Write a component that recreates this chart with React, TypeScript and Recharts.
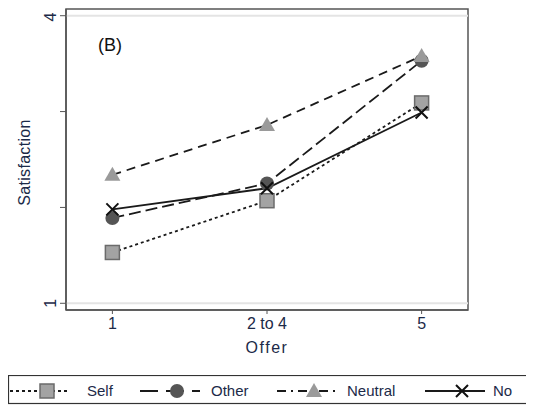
import { LineChart, Line, XAxis, YAxis, ReferenceLine, ReferenceArea } from "recharts";

const categories = ["1", "2 to 4", "5"];
const selfValues = [1.53, 2.07, 3.09];
const otherValues = [1.89, 2.25, 3.53];
const neutralValues = [2.34, 2.86, 3.58];
const noValues = [1.98, 2.2, 2.99];
const yTicks = [1, 2, 3, 4];
const yTickLabels = ["1", "", "", "4"];

const data = categories.map((c, i) => ({
  x: i,
  self: selfValues[i],
  other: otherValues[i],
  neutral: neutralValues[i],
  no: noValues[i],
}));

const FONT = "'Liberation Sans', Arial, sans-serif";
const TEXT = "#1c2a48";
const LINE = "#1a1a1a";

const SquareDot = (p: any) =>
  p.cx == null ? null : (
    <rect key={`s${p.index}`} x={p.cx - 7} y={p.cy - 7} width={14} height={14} fill="#a3a3a3" stroke="#6b6b6b" strokeWidth={1.5} />
  );
const CircleDot = (p: any) =>
  p.cx == null ? null : <circle key={`c${p.index}`} cx={p.cx} cy={p.cy} r={7} fill="#555" />;
const TriangleDot = (p: any) =>
  p.cx == null ? null : (
    <path key={`t${p.index}`} d={`M${p.cx},${p.cy - 8} L${p.cx + 8},${p.cy + 6} L${p.cx - 8},${p.cy + 6} Z`} fill="#9a9a9a" />
  );
const CrossDot = (p: any) =>
  p.cx == null ? null : (
    <path key={`x${p.index}`} d={`M${p.cx - 6},${p.cy - 6} L${p.cx + 6},${p.cy + 6} M${p.cx + 6},${p.cy - 6} L${p.cx - 6},${p.cy + 6}`} stroke="#111" strokeWidth={2} />
  );

const YTick = (p: any) => {
  const label = yTickLabels[yTicks.indexOf(p.payload.value)];
  const x = p.x - 2;
  return (
    <text x={x} y={p.y} transform={`rotate(-90, ${x}, ${p.y})`} textAnchor="middle" fontSize={16} fontFamily={FONT} fill={TEXT}>
      {label}
    </text>
  );
};

const legendItems = [
  { name: "Self", x: 2, dash: "3 3", dot: SquareDot, text: 79 },
  { name: "Other", x: 132, dash: "18 8", dot: CircleDot, text: 203 },
  { name: "Neutral", x: 269, dash: "9 5 2 5", dot: TriangleDot, text: 339 },
  { name: "No", x: 417, dash: undefined, dot: CrossDot, text: 485 },
];

export default function App() {
  return (
    <div style={{ position: "relative", width: 526, height: 397 }}>
      <LineChart width={526} height={360} data={data} margin={{ top: 1, right: 66, bottom: 0, left: 0 }}>
        <XAxis
          dataKey="x"
          type="number"
          domain={[-0.3, 2.3]}
          ticks={[0, 1, 2]}
          tickFormatter={(v: number) => categories[v]}
          allowDataOverflow
          height={58}
          tickSize={4}
          tickMargin={4}
          tick={{ fontSize: 16, fontFamily: FONT, fill: TEXT }}
          axisLine={{ stroke: "#555", strokeWidth: 1.5 }}
          tickLine={{ stroke: "#555" }}
          label={{ value: "Offer", position: "insideBottom", offset: 15, fontSize: 16, fontFamily: FONT, fill: TEXT, letterSpacing: 1.5 }}
        />
        <YAxis
          type="number"
          domain={[0.93, 4.07]}
          ticks={yTicks}
          allowDataOverflow
          width={58}
          tickSize={6}
          tick={<YTick />}
          axisLine={{ stroke: "#555", strokeWidth: 1.5 }}
          tickLine={{ stroke: "#555" }}
          label={(props: any) => {
            const vb = props.viewBox;
            const cx = 22;
            const cy = vb.y + vb.height / 2 + 3;
            return (
              <text x={cx} y={cy} transform={`rotate(-90, ${cx}, ${cy})`} textAnchor="middle" fontSize={16} letterSpacing={0.3} fontFamily={FONT} fill={TEXT}>
                Satisfaction
              </text>
            );
          }}
        />
        <ReferenceArea x1={-0.3} x2={2.3} y1={0.93} y2={4.07} fill="none" stroke="#555" strokeWidth={1.5} ifOverflow="visible" />
        <ReferenceLine y={4} stroke="#e4e4e4" strokeWidth={2} />
        <ReferenceLine y={1} stroke="#e4e4e4" strokeWidth={2} />
        <Line dataKey="self" stroke={LINE} strokeWidth={1.8} strokeDasharray="3 3" dot={SquareDot} isAnimationActive={false} />
        <Line dataKey="other" stroke={LINE} strokeWidth={1.8} strokeDasharray="12 5" dot={CircleDot} isAnimationActive={false} />
        <Line dataKey="neutral" stroke={LINE} strokeWidth={1.8} strokeDasharray="9 6" dot={TriangleDot} isAnimationActive={false} />
        <Line dataKey="no" stroke={LINE} strokeWidth={1.8} dot={CrossDot} isAnimationActive={false} />
      </LineChart>
      <div style={{ position: "absolute", left: 90, top: 27, fontSize: 18, fontFamily: FONT, color: "#111" }}>(B)</div>
      <svg width={526} height={30} style={{ position: "absolute", left: 0, top: 367 }}>
        <rect x={0.5} y={0.5} width={540} height={28} fill="#fff" stroke="#333" strokeWidth={1.2} />
        {legendItems.map((it, i) => (
          <g key={it.name}>
            <line x1={it.x} x2={it.x + 60} y1={16} y2={16} stroke={LINE} strokeWidth={1.8} strokeDasharray={it.dash} />
            {it.dot({ cx: it.x + 37, cy: 16, index: 10 + i })}
            <text x={it.text} y={21} fontSize={15} fontFamily={FONT} fill={TEXT}>
              {it.name}
            </text>
          </g>
        ))}
      </svg>
    </div>
  );
}
